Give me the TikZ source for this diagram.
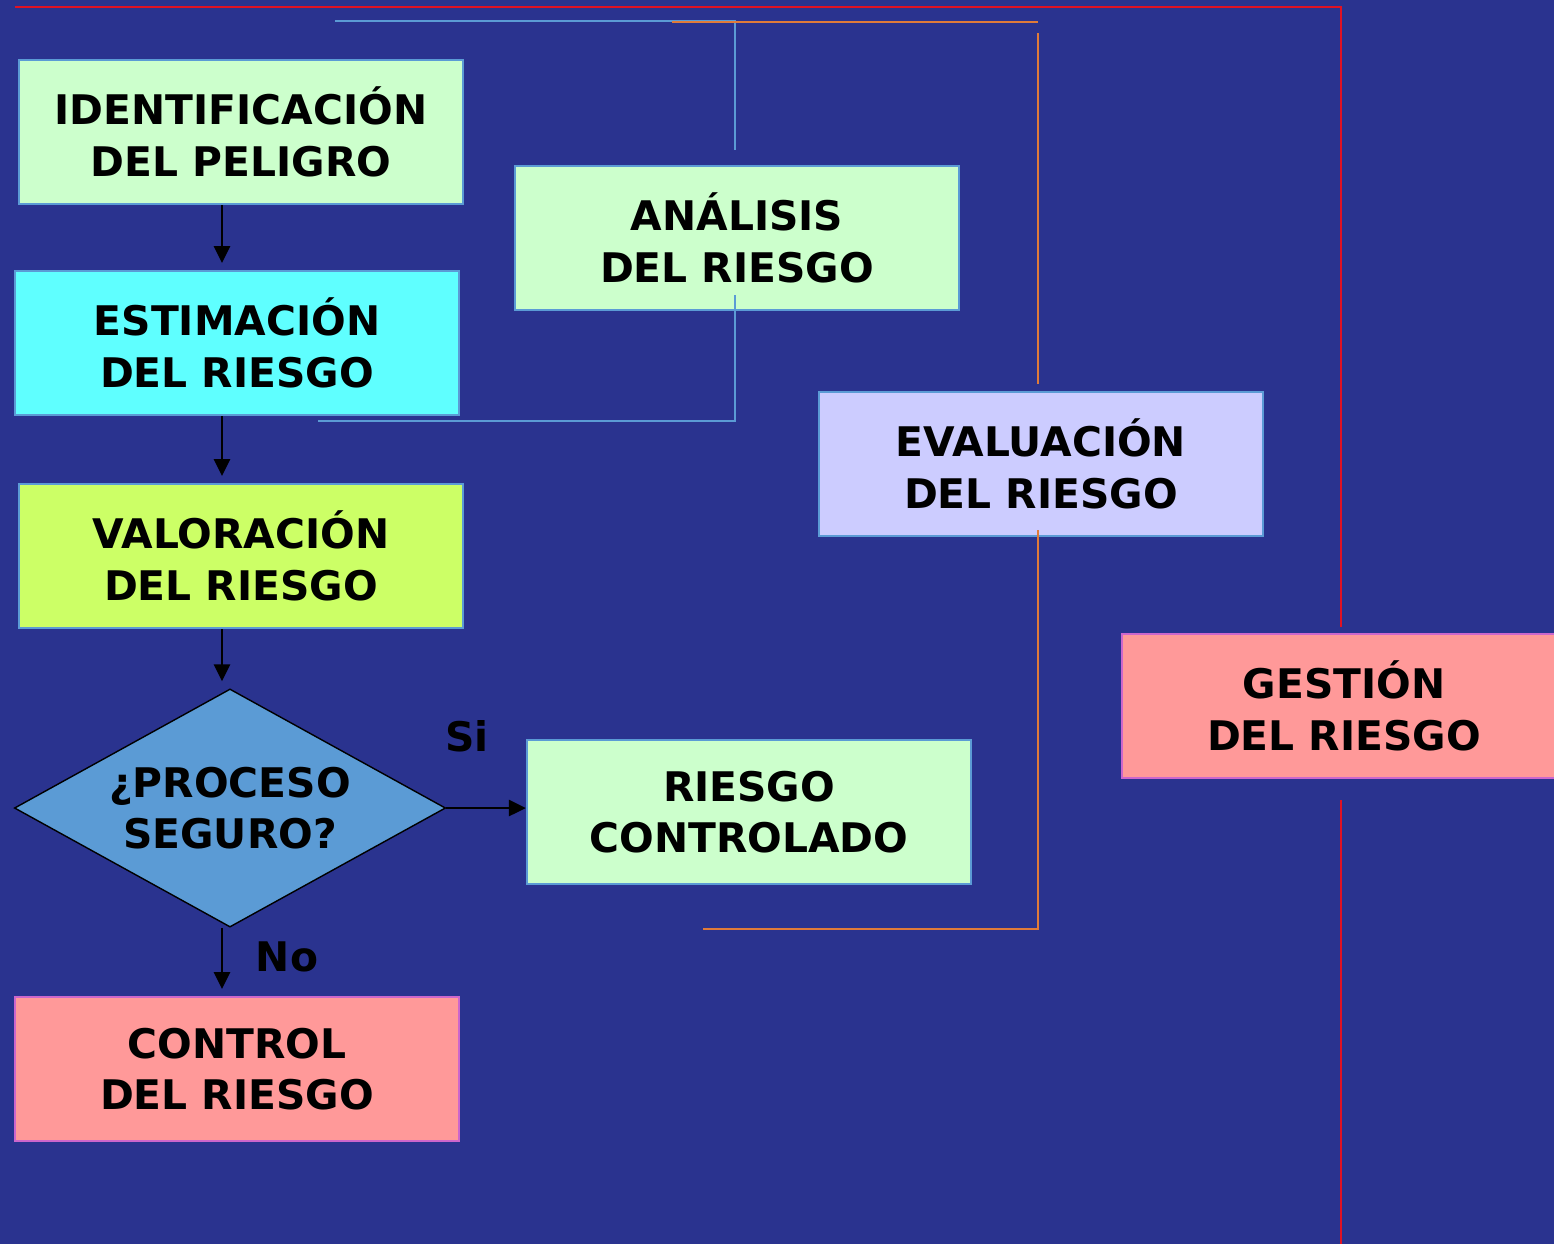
\documentclass[tikz,border=0pt]{standalone}
\usepackage{fontspec}
\setmainfont{DejaVu Sans}
\usetikzlibrary{shapes.geometric,arrows.meta}
\definecolor{fondo}{RGB}{42,51,143}
\definecolor{borde}{RGB}{91,155,213}
\definecolor{verdeclaro}{RGB}{204,255,204}
\definecolor{cian}{RGB}{95,255,255}
\definecolor{lima}{RGB}{204,255,102}
\definecolor{lila}{RGB}{204,204,255}
\definecolor{rosa}{RGB}{255,153,153}
\definecolor{rombo}{RGB}{91,155,213}
\definecolor{naranja}{RGB}{224,123,57}
\definecolor{rojo}{RGB}{225,18,36}
\definecolor{violeta}{RGB}{204,102,204}
\begin{document}
\begin{tikzpicture}[x=0.01cm, y=-0.01cm,
  caja/.style={draw=borde, line width=0.6pt, minimum width=4.44cm,
    minimum height=1.44cm, inner sep=0pt, align=center,
    font=\fontsize{11.6}{14.7}\selectfont\bfseries},
  etiqueta/.style={font=\fontsize{11.6}{14.7}\selectfont\bfseries},
  flecha/.style={line width=0.6pt, shorten >=2pt,
    -{Triangle[length=4.8pt, width=4.6pt]}}]
  \fill[fondo] (0, 0) rectangle (1554, 1244);
  \clip (0, 0) rectangle (1554, 1244);
  \draw[rojo, line width=0.7pt] (15, 7) -- (1341, 7) -- (1341, 627);
  \draw[rojo, line width=0.7pt] (1341, 800) -- (1341, 1244);
  \draw[borde, line width=0.6pt] (335, 21) -- (735, 21) -- (735, 150);
  \draw[naranja, line width=0.7pt] (672, 22) -- (1038, 22);
  \draw[naranja, line width=0.7pt] (1038, 33) -- (1038, 384);
  \node[caja, fill=verdeclaro] (ident) at (241, 132) {IDENTIFICACIÓN\\DEL PELIGRO};
  \node[caja, fill=cian] (estim) at (237, 343) {ESTIMACIÓN\\DEL RIESGO};
  \node[caja, fill=lima] (valor) at (241, 556) {VALORACIÓN\\DEL RIESGO};
  \node[diamond, draw=black, line width=0.4pt, fill=rombo, aspect=1.8,
    minimum width=4.31cm, minimum height=2.38cm, inner sep=0pt, align=center,
    font=\fontsize{11.6}{14.7}\selectfont\bfseries] (proceso) at (230, 808)
    {¿PROCESO\\SEGURO?};
  \node[caja, fill=verdeclaro] (riesgo) at (749, 812) {RIESGO\\CONTROLADO};
  \node[caja, fill=rosa, draw=violeta] (control) at (237, 1069) {CONTROL\\DEL RIESGO};
  \node[caja, fill=verdeclaro] (anal) at (737, 238) {ANÁLISIS\\DEL RIESGO};
  \node[caja, fill=lila] (eval) at (1041, 464) {EVALUACIÓN\\DEL RIESGO};
  \node[caja, fill=rosa, draw=violeta] (gestion) at (1344, 706) {GESTIÓN\\DEL RIESGO};
  \node[etiqueta] (si) at (467, 736) {Si};
  \node[etiqueta] (no) at (287, 957) {No};
  \coordinate (eje) at (222, 0);
  \draw[flecha] (ident.south -| eje) -- (estim.north -| eje);
  \draw[flecha] (estim.south -| eje) -- (valor.north -| eje);
  \draw[flecha] (valor.south -| eje) -- (proceso.north -| eje);
  \draw[flecha] (proceso.south -| eje) -- (control.north -| eje);
  \draw[flecha, shorten >=0pt] (proceso.east) -- (riesgo.west |- proceso.east);
  \draw[borde, line width=0.6pt] (735, 295) -- (735, 421) -- (318, 421);
  \draw[naranja, line width=0.7pt] (1038, 530) -- (1038, 929) -- (703, 929);
\end{tikzpicture}
\end{document}
